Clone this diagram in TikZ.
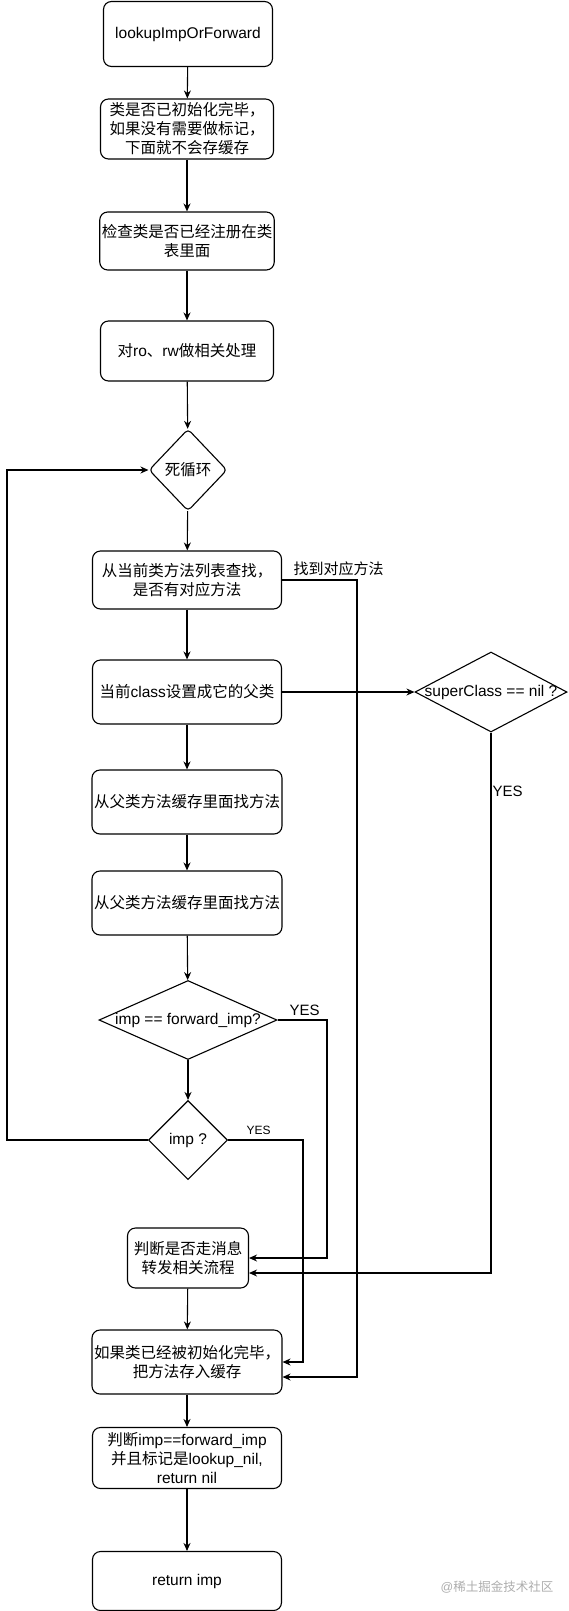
\documentclass[tikz,border=0pt]{standalone}
\usepackage{fontspec}
\setmainfont{Liberation Sans}
\newfontfamily\cjk{Noto Sans CJK SC}
\usetikzlibrary{arrows.meta,shapes.geometric}
\definecolor{MarkClr}{rgb}{0.68,0.68,0.68}
\newcommand{\zh}[1]{{\cjk #1}}

\begin{document}
\begin{tikzpicture}[x=1pt,y=-1pt,line width=1.1pt,>={Stealth[length=8pt,width=7pt]},
  box/.style={draw,rounded corners=8pt,align=center,minimum width=189pt,minimum height=62pt,inner sep=2pt,font=\fontsize{15.5}{19}\selectfont},
  dia/.style={draw,diamond,inner sep=0pt,font=\fontsize{15.5}{19}\selectfont},
  lbl/.style={inner sep=1pt,font=\fontsize{15}{17}\selectfont}]
\useasboundingbox (0,0) rectangle (568,1611);

\node[box,minimum width=169pt,minimum height=65pt] (B1) at (188,34) {lookupImpOrForward};
\node[box,minimum width=173pt,minimum height=60pt] (B2) at (187,129) {\zh{类是否已初始化完毕，}\\\zh{如果没有需要做标记，}\\\zh{下面就不会存缓存}};
\node[box,minimum width=173pt,minimum height=58pt] (B3) at (187,241) {\zh{检查类是否已经注册在类}\\\zh{表里面}};
\node[box,minimum width=173pt,minimum height=60pt] (B4) at (187,351) {\zh{对}ro\zh{、}rw\zh{做相关处理}};
\node[dia,rounded corners=4pt,minimum width=78pt,minimum height=82pt] (D1) at (188,470) {\makebox[0pt]{\zh{死循环}}};
\node[box,minimum height=58pt] (B5) at (187,580) {\zh{从当前类方法列表查找，}\\\zh{是否有对应方法}};
\node[box,minimum height=64pt] (B6) at (187,692) {\zh{当前}class\zh{设置成它的父类}};
\node[dia,minimum width=152pt,minimum height=80pt] (D2) at (491,692) {\makebox[0pt]{superClass == nil ?}};
\node[box,minimum height=64pt] (B7) at (187,802) {\zh{从父类方法缓存里面找方法}};
\node[box,minimum height=64pt] (B8) at (187,903) {\zh{从父类方法缓存里面找方法}};
\node[dia,minimum width=178pt,minimum height=79pt] (D3) at (188,1020) {\makebox[0pt]{imp == forward\_imp?}};
\node[dia,minimum width=79pt,minimum height=79pt] (D4) at (188,1140) {\makebox[0pt]{imp ?}};
\node[box,minimum width=121pt,minimum height=60pt] (B9) at (188,1258) {\zh{判断是否走消息}\\\zh{转发相关流程}};
\node[box,minimum height=64pt] (B10) at (187,1362) {\zh{如果类已经被初始化完毕，}\\\zh{把方法存入缓存}};
\node[box,minimum height=61pt] (B11) at (187,1458) {\zh{判断}imp==forward\_imp\\\zh{并且标记是}lookup\_nil,\\return nil};
\node[box,minimum height=59pt] (B12) at (187,1581) {return imp};

\node[lbl,anchor=west] (L1) at (292,569) {\zh{找到对应方法}};
\node[lbl,anchor=west] (L2) at (491,791) {YES};
\node[lbl,anchor=west] (L3) at (288,1010) {YES};
\node[lbl,anchor=west,font=\fontsize{12}{14}\selectfont] (L4) at (245,1130) {YES};
\node[inner sep=0pt,text=MarkClr,font=\fontsize{12.5}{14}\selectfont] (W) at (497,1587) {@\zh{稀土掘金技术社区}};

\coordinate (C1) at (357,1377);
\coordinate (C2) at (491,1273);
\coordinate (C3) at (327,1258);
\coordinate (C4) at (303,1362);
\coordinate (C5) at (7,470);

\draw[->] (B1) -- (B2);
\draw[->] (B2) -- (B3);
\draw[->] (B3) -- (B4);
\draw[->] (B4) -- (D1);
\draw[->] (D1) -- (B5);
\draw[->] (B5) -- (B6);
\draw[->] (B6) -- (B7);
\draw[->] (B7) -- (B8);
\draw[->] (B8) -- (D3);
\draw[->] (D3) -- (D4);
\draw[->] (B9) -- (B10);
\draw[->] (B10) -- (B11);
\draw[->] (B11) -- (B12);

\draw[->] (B6.east) -- (D2.west);
\draw[->] (B5.east) -| (C1) -- (C1 -| B10.east);
\draw[->] (D2.south) -- (C2) -- (C2 -| B9.east);
\draw[->] (D3.east) -| (C3) -- (C3 -| B9.east);
\draw[->] (D4.east) -| (C4) -- (C4 -| B10.east);
\draw[->] (D4.west) -| (C5) -- (D1.west);

\end{tikzpicture}
\end{document}
